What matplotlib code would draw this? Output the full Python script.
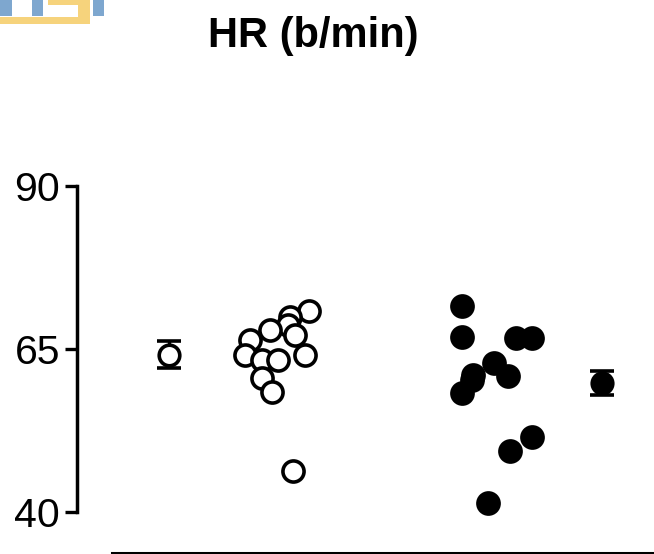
import numpy as np
import matplotlib
matplotlib.use("Agg")
import matplotlib.pyplot as plt
from matplotlib.patches import Rectangle

plt.rcParams['font.family'] = ['Liberation Sans', 'DejaVu Sans']

# ---- data ----
open_x = [2.32, 2.13, 2.11, 2.18, 1.93, 1.73, 1.68, 1.85, 2.01, 2.28, 1.85, 1.95, 2.16]
open_y = [70.8, 69.8, 68.6, 67.1, 67.9, 66.4, 64.1, 63.3, 63.3, 64.1, 60.5, 58.4, 46.3]

filled_x = [3.85, 3.85, 4.39, 4.55, 4.17, 3.96, 3.95, 4.31, 3.85, 4.55, 4.33, 4.11]
filled_y = [71.6, 66.8, 66.6, 66.6, 62.8, 61.0, 60.2, 60.8, 58.2, 51.5, 49.3, 41.4]

mean_x = [0.92, 5.25]
mean_y = [64.1, 59.74]
sem = [2.05, 1.8]

yticks = [40, 65, 90]
title = 'HR (b/min)'

# ---- figure ----
W, H = 654, 554
fig = plt.figure(figsize=(W / 100, H / 100), dpi=100)

# axes placed in pixel terms: spine at x=77, bottom line at y=553, top at y=100
ax = fig.add_axes([77 / W, 1.3 / H, 1 - 77 / W, (553 - 100) / H])
ppu = 6.52  # pixels per unit
ax.set_ylim(65 - (553 - 349) / ppu, 65 + (349 - 100) / ppu)
ax.set_xlim(0, 5.77)

ms, mew = 15.2, 2.6
ax.plot(open_x, open_y, 'o', ms=ms, mfc='white', mec='black', mew=mew,
        linestyle='none', zorder=3)
ax.plot(filled_x, filled_y, 'o', ms=ms, mfc='black', mec='black', mew=mew,
        linestyle='none', zorder=3)

ax.errorbar(mean_x[0], mean_y[0], yerr=sem[0], fmt='o', ms=ms - 0.4, mfc='white',
            mec='black', mew=mew, ecolor='black', elinewidth=2.4,
            capsize=8.6, capthick=2.6, zorder=3)
ax.errorbar(mean_x[1], mean_y[1], yerr=sem[1], fmt='o', ms=ms - 0.4, mfc='black',
            mec='black', mew=mew, ecolor='black', elinewidth=2.4,
            capsize=8.6, capthick=2.6, zorder=3)

for s in ['top', 'right']:
    ax.spines[s].set_visible(False)
ax.spines['left'].set_linewidth(2.5)
ax.spines['left'].set_bounds(40, 90)
ax.spines['bottom'].set_linewidth(2.2)
ax.spines['bottom'].set_bounds(0.35, 5.77)

ax.set_yticks(yticks)
ax.set_yticklabels([str(v) for v in yticks])
ax.tick_params(axis='y', length=8.5, width=2.4, pad=3.6, labelsize=29.5)
ax.set_xticks([])

fig.text(313 / W, 1 - 35.5 / H, title, ha='center', va='center',
         fontsize=30, fontweight='bold')

# cropped logo fragment at top-left
blue, yellow = '#7ea7cf', '#f6d37c'
logo = [
    (0, 0, 12, 16, blue),
    (32, 0, 11, 16, blue),
    (93, 0, 11, 16, blue),
    (48, 0, 42, 5, yellow),
    (78, 0, 12, 24, yellow),
    (0, 17, 90, 7, yellow),
]
for x0, y0, w, h, c in logo:
    fig.patches.append(Rectangle((x0 / W, 1 - (y0 + h) / H), w / W, h / H,
                                 transform=fig.transFigure, color=c, lw=0))

fig.savefig('out.png', dpi=100)
